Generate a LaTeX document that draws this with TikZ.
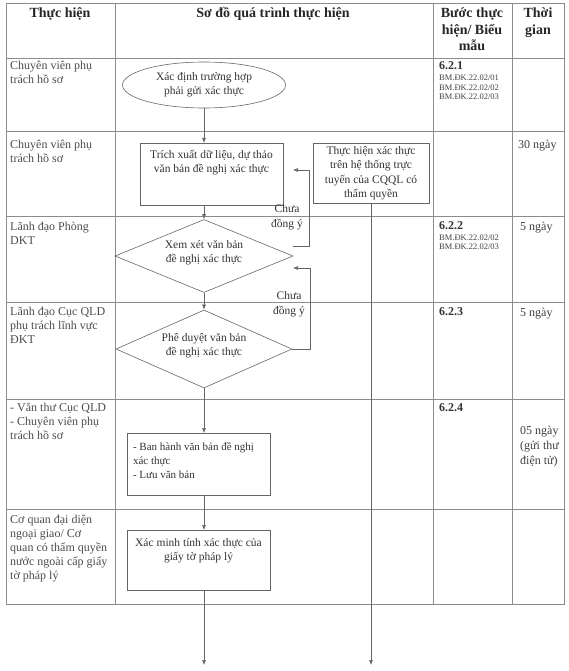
\documentclass[tikz,border=0pt]{standalone}
\usepackage{fontspec}
\setmainfont{Liberation Serif}
\usetikzlibrary{shapes.geometric, arrows.meta}
\newcommand{\cellrows}[2]{\begin{tabular}[t]{@{}#1@{}}#2\end{tabular}}
\tikzset{
    grid/.style={draw=black!45, line width=0.7pt},
    head/.style={anchor=base, inner sep=0pt, text=black!85, font=\bfseries\fontsize{14}{16.5}\selectfont},
    who/.style={anchor=base west, inner sep=0pt, text=black!70, font=\fontsize{12}{14}\selectfont},
    stepno/.style={anchor=base west, inner sep=0pt, text=black!80, font=\bfseries\fontsize{12}{14}\selectfont},
    form/.style={anchor=base west, inner sep=0pt, text=black!75, font=\fontsize{8.5}{9.5}\selectfont},
    days/.style={anchor=base west, inner sep=0pt, text=black!75, font=\fontsize{12}{15}\selectfont},
    block/.style={draw=black!60, rectangle, line width=0.6pt, inner sep=0pt, text=black!80, font=\fontsize{11.5}{14}\selectfont},
    check/.style={draw=black!60, diamond, aspect=2.4, line width=0.6pt, align=center, inner sep=0pt, text depth=9pt, text=black!80, font=\fontsize{11.5}{14}\selectfont},
    begin/.style={draw=black!60, ellipse, line width=0.6pt, align=center, inner sep=0pt, text=black!80, font=\fontsize{11.5}{14}\selectfont},
    note/.style={align=center, inner sep=0pt, text=black!80, font=\fontsize{11.5}{14.5}\selectfont},
    arr/.style={-{Latex[length=5pt,width=4pt]}, draw=black!60, line width=0.6pt}
}

\begin{document}
\begin{tikzpicture}[x=1pt, y=-1pt]
    \useasboundingbox (0,0) rectangle (569,671);

    % Table frame
    \draw [grid] (6,3) rectangle (564,604);
    \foreach \xx in {115, 433, 512}
        \draw [grid] (\xx,3) -- (\xx,604);
    \foreach \yy in {58, 131, 216, 302, 399, 509}
        \draw [grid] (6,\yy) -- (564,\yy);

    % Header
    \node [head] (h1) at (60,18) {Thực hiện};
    \node [head] (h2) at (273,18) {Sơ đồ quá trình thực hiện};
    \node [head] (h3) at (472,18) {\cellrows{c}{Bước thực\\hiện/ Biểu\\mẫu}};
    \node [head] (h4) at (538,18) {\cellrows{c}{Thời\\gian}};

    % Who does it
    \node [who] (w1) at (10,70) {\cellrows{l}{Chuyên viên phụ\\trách hồ sơ}};
    \node [who] (w2) at (10,149) {\cellrows{l}{Chuyên viên phụ\\trách hồ sơ}};
    \node [who] (w3) at (10,230) {\cellrows{l}{Lãnh đạo Phòng\\DKT}};
    \node [who] (w4) at (10,315) {\cellrows{l}{Lãnh đạo Cục QLD\\phụ trách lĩnh vực\\ĐKT}};
    \node [who] (w5) at (10,411) {\cellrows{l}{- Văn thư Cục QLD\\- Chuyên viên phụ\\trách hồ sơ}};
    \node [who] (w6) at (10,523) {\cellrows{l}{Cơ quan đại diện\\ngoại giao/ Cơ\\quan có thẩm quyền\\nước ngoài cấp giấy\\tờ pháp lý}};

    % Steps and forms
    \node [stepno] (s1) at (439,70) {6.2.1};
    \node [form] (f1) at (439,81) {\cellrows{l}{BM.ĐK.22.02/01\\BM.ĐK.22.02/02\\BM.ĐK.22.02/03}};
    \node [stepno] (s2) at (439,229) {6.2.2};
    \node [form] (f2) at (439,240) {\cellrows{l}{BM.ĐK.22.02/02\\BM.ĐK.22.02/03}};
    \node [stepno] (s3) at (439,315) {6.2.3};
    \node [stepno] (s4) at (439,411) {6.2.4};

    % Time
    \node [days] (t2) at (518,149) {30 ngày};
    \node [days] (t3) at (520,230) {5 ngày};
    \node [days] (t4) at (520,316) {5 ngày};
    \node [days] (t5) at (520,434) {\cellrows{l}{05 ngày\\(gửi thư\\điện tử)}};

    % The flow
    \node [begin, minimum width=163pt, minimum height=46pt] (start) at (204,85) {Xác định trường hợp\\phải gửi xác thực};
    \node [block, anchor=north, minimum width=143pt, inner ysep=5.2pt, text depth=41.8pt] (draft) at (211.5,143) {\cellrows{c}{Trích xuất dữ liệu, dự thảo\\văn bản đề nghị xác thực}};
    \node [block, align=center, minimum width=116pt, minimum height=60pt, font=\fontsize{11.5}{14.5}\selectfont] (online) at (371,173) {Thực hiện xác thực\\trên hệ thống trực\\tuyến của CQQL có\\thẩm quyền};
    \node [check, minimum width=178pt, minimum height=73pt] (review) at (204,256) {Xem xét văn bản\\đề nghị xác thực};
    \node [check, minimum width=176pt, minimum height=78pt] (approve) at (204,349) {Phê duyệt văn bản\\đề nghị xác thực};
    \node [block, anchor=north, minimum width=143pt, inner ysep=7.2pt, text depth=37.8pt, font=\fontsize{11}{14}\selectfont] (issue) at (198.5,433) {\makebox[131pt][l]{\cellrows{l}{- Ban hành văn bản đề nghị\\xác thực\\- Lưu văn bản}}};
    \node [block, anchor=north, minimum width=143pt, inner ysep=6.2pt, text depth=37.8pt] (verify) at (198.5,530) {\cellrows{c}{Xác minh tính xác thực của\\giấy tờ pháp lý}};

    % Loose ends
    \coordinate (back1) at (293,170);
    \coordinate (back2) at (293,268);
    \coordinate (out1) at (204,665);

    % Arrows
    \draw [arr] (start.south) -- (start.south |- draft.north);
    \draw [arr] (review.north |- draft.south) -- (review.north);
    \draw [arr] (review.south) -- (approve.north);
    \draw [arr] (approve.south) -- (approve.south |- issue.north);
    \draw [arr] (approve.south |- issue.south) -- (approve.south |- verify.north);
    \draw [arr] (approve.south |- verify.south) -- (out1);
    \draw [arr] (online.south) -- (online.south |- out1);

    % Sent back
    \draw [arr] ([yshift=10pt]review.east) -- ++(16,0) |- (back1);
    \draw [arr] (approve.east) -- ++(18,0) |- (back2);
    \node [note] (no1) at (287,217) {Chưa\\đồng ý};
    \node [note] (no2) at (289,304) {Chưa\\đồng ý};
\end{tikzpicture}
\end{document}
